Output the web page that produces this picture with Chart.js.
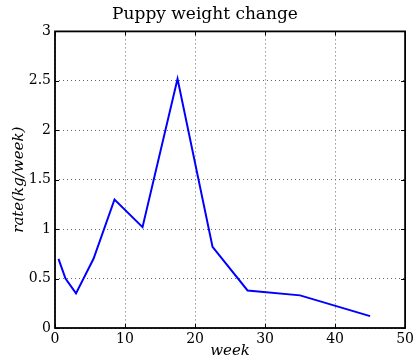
<!DOCTYPE html>
<html>
<head>
<meta charset="utf-8">
<script src="https://cdn.jsdelivr.net/npm/chart.js@4"></script>
<style>
  html, body { margin: 0; padding: 0; background: #fff; }
  #wrap { width: 417px; height: 360px; }
</style>
</head>
<body>
<div id="wrap"><canvas id="c" width="417" height="360"></canvas></div>
<script>
// values
const weeks = [0.5, 1.5, 3, 5.5, 8.5, 12.5, 17.5, 22.5, 27.5, 35, 45];
const rates = [0.7, 0.5, 0.35, 0.7, 1.3, 1.02, 2.52, 0.82, 0.38, 0.33, 0.12];

const serif = "'DejaVu Serif', 'Liberation Serif', serif";

// inward tick marks on all four sides, like the reference
const innerTicks = {
    id: 'innerTicks',
    afterDraw(chart) {
        const ctx = chart.ctx;
        const a = chart.chartArea;
        const x = chart.scales.x, y = chart.scales.y;
        ctx.save();
        ctx.strokeStyle = '#000';
        ctx.lineWidth = 1;
        ctx.beginPath();
        x.ticks.forEach(t => {
            const px = Math.round(x.getPixelForValue(t.value)) + 0.5;
            ctx.moveTo(px, a.bottom); ctx.lineTo(px, a.bottom - 4);
            ctx.moveTo(px, a.top); ctx.lineTo(px, a.top + 4);
        });
        y.ticks.forEach(t => {
            const py = Math.round(y.getPixelForValue(t.value)) + 0.5;
            ctx.moveTo(a.left, py); ctx.lineTo(a.left + 4, py);
            ctx.moveTo(a.right, py); ctx.lineTo(a.right - 4, py);
        });
        ctx.stroke();
        ctx.lineWidth = 1.8;
        ctx.strokeRect(a.left, a.top, a.right - a.left, a.bottom - a.top);
        ctx.restore();
    }
};

new Chart(document.getElementById('c'), {
    type: 'line',
    data: {
        datasets: [{
            data: weeks.map((w, i) => ({ x: w, y: rates[i] })),
            borderColor: '#0000ff',
            borderWidth: 2,
            pointRadius: 0,
            tension: 0
        }]
    },
    options: {
        responsive: false,
        animation: false,
        layout: { padding: { left: 0, right: 7, top: 0, bottom: 0 } },
        plugins: {
            legend: { display: false },
            tooltip: { enabled: false },
            title: {
                display: true,
                text: 'Puppy weight change',
                color: '#000',
                font: { family: serif, size: 17, weight: 'normal' },
                padding: { top: 4, bottom: 7 }
            }
        },
        scales: {
            x: {
                type: 'linear',
                min: 0,
                max: 50,
                ticks: { stepSize: 10, color: '#000', font: { family: serif, size: 14 }, padding: 3 },
                grid: { color: '#666', drawTicks: false, tickLength: 0 },
                border: { display: false, dash: [1, 3] },
                title: {
                    display: true,
                    text: 'week',
                    color: '#000',
                    font: { family: serif, size: 15, style: 'italic' },
                    padding: { top: 0, bottom: 0 }
                },
                afterFit(scale) { scale.height = 32; }
            },
            y: {
                min: 0,
                max: 3,
                ticks: {
                    stepSize: 0.5, color: '#000', font: { family: serif, size: 14 }, padding: 4,
                    callback: v => String(v)
                },
                grid: { color: '#666', drawTicks: false, tickLength: 0 },
                border: { display: false, dash: [1, 3] },
                title: {
                    display: true,
                    text: 'rate(kg/week)',
                    color: '#000',
                    font: { family: serif, size: 15, style: 'italic' },
                    padding: { top: 10, bottom: 0 }
                },
                afterFit(scale) { scale.width = 55; }
            }
        }
    },
    plugins: [innerTicks]
});
</script>
</body>
</html>
